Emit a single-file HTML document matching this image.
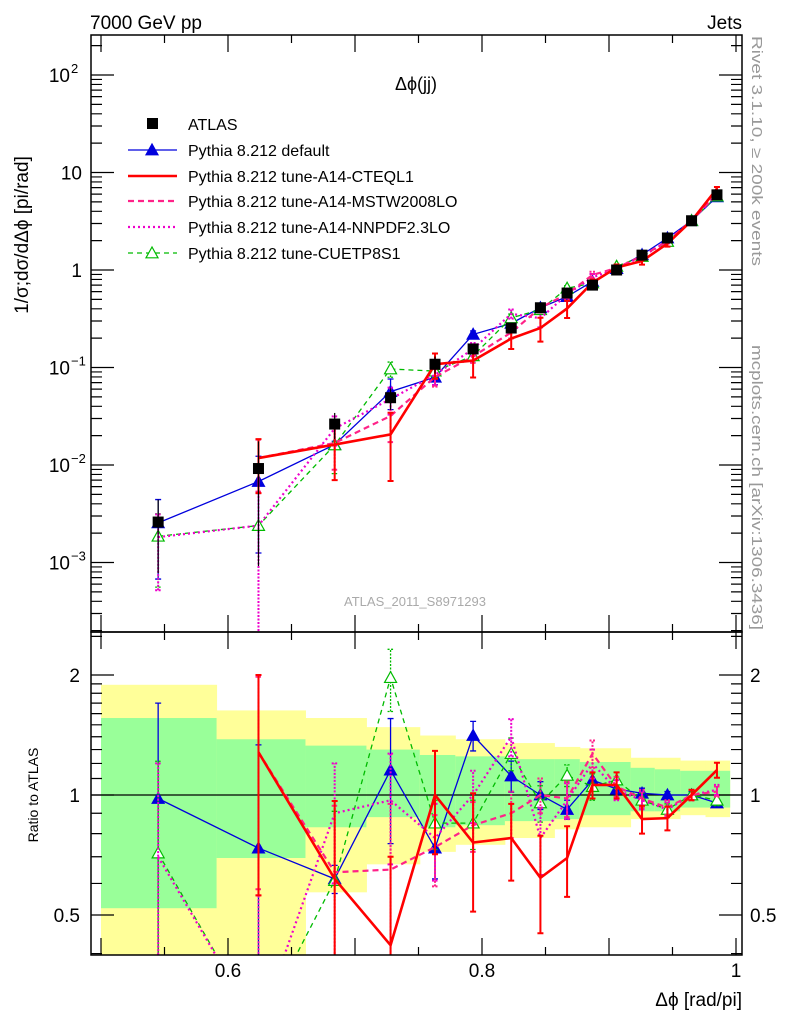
<!DOCTYPE html>
<html><head><meta charset="utf-8"><style>
html,body{margin:0;padding:0;background:#fff;overflow:hidden;width:786px;height:1024px;}
svg{display:block;font-family:"Liberation Sans",sans-serif;}
</style></head><body>
<svg id="c" width="786" height="1024" viewBox="0 0 786 1024" xmlns="http://www.w3.org/2000/svg">
<defs>
<clipPath id="cm"><rect x="91" y="35" width="651" height="597"/></clipPath>
<clipPath id="cr"><rect x="91" y="632" width="651" height="323"/></clipPath>
</defs>
<g id="bands" clip-path="url(#cr)"></g>
<g id="main" clip-path="url(#cm)"></g>
<g id="ratio" clip-path="url(#cr)"></g>
<g id="axes"></g>
<text x="90" y="29" font-size="19">7000 GeV pp</text>
<text x="742" y="29" font-size="19" text-anchor="end">Jets</text>
<text x="416" y="90" font-size="18" text-anchor="middle">Δϕ(jj)</text>
<text x="415" y="606" font-size="13" fill="#aaa" text-anchor="middle">ATLAS_2011_S8971293</text>
<text transform="translate(752,36) rotate(90)" font-size="14.5" fill="#999" textLength="230" lengthAdjust="spacingAndGlyphs">Rivet 3.1.10, ≥ 200k events</text>
<text transform="translate(752,345) rotate(90)" font-size="14.5" fill="#999" textLength="285" lengthAdjust="spacingAndGlyphs">mcplots.cern.ch [arXiv:1306.3436]</text>
<text transform="translate(28,235) rotate(-90)" font-size="19" text-anchor="middle">1/σ;dσ/dΔϕ [pi/rad]</text>
<text transform="translate(38,795) rotate(-90)" font-size="14" text-anchor="middle">Ratio to ATLAS</text>
<text x="742" y="1006" font-size="19" text-anchor="end">Δϕ [rad/pi]</text>
<g id="legend"></g>
</svg>
<script>
const xs=[0.545,0.624,0.684,0.728,0.763,0.793,0.823,0.846,0.867,0.887,0.906,0.926,0.946,0.965,0.985];
const atlas=[0.0026,0.0092,0.0263,0.049,0.108,0.155,0.254,0.41,0.58,0.70,1.0,1.42,2.13,3.2,5.9];
const atlasRelErr=[0.7,0.9,0.3,0.25,0.2,0.12,0.1,0.08,0.12,0.05,0.04,0.04,0.03,0.03,0.03];
const rDefault=[0.98,0.736,0.616,1.155,0.736,1.41,1.116,1.0,0.92,1.09,1.035,1.01,1.0,1.0,0.955];
const eDefault=[0.72,0.6,0.05,0.4,0.12,0.12,0.1,0.08,0.05,0.05,0.03,0.03,0.02,0.02,0.02];
const rCTEQ=[null,1.28,0.616,0.42,1.0,0.76,0.78,0.62,0.695,1.06,1.06,0.87,0.875,1.0,1.155];
const eCTEQ=[0,0.72,0.35,0.28,0.29,0.25,0.17,0.17,0.14,0.08,0.08,0.07,0.06,0.03,0.05];
const rMSTW=[null,1.28,0.64,0.65,0.74,0.84,0.9,1.0,0.98,1.27,1.05,0.98,0.93,1.0,1.02];
const eMSTW=[0,0.7,0.3,0.3,0.15,0.12,0.12,0.1,0.1,0.1,0.06,0.05,0.04,0.03,0.03];
const rNNPDF=[0.7,0.26,0.9,0.97,0.78,1.0,1.4,0.78,0.97,1.2,1.03,0.97,0.92,1.0,1.03];
const eNNPDF=[0.5,0.3,0.3,0.3,0.17,0.15,0.15,0.15,0.1,0.1,0.06,0.05,0.04,0.03,0.03];
const rCUETP=[0.715,0.26,0.61,1.97,0.85,0.85,1.27,0.955,1.12,1.05,1.09,0.97,0.92,1.0,0.97];
const eCUETP=[0.5,0.3,0.3,0.35,0.12,0.12,0.12,0.1,0.07,0.08,0.05,0.04,0.03,0.03,0.03];
const binEdges=[0.5,0.591,0.661,0.709,0.751,0.779,0.818,0.857,0.877,0.917,0.936,0.956,0.976,0.995];
const bandYellowHi=[1.89,1.63,1.56,1.48,1.41,1.38,1.35,1.32,1.31,1.24,1.24,1.22,1.22];
const bandGreenHi=[1.56,1.38,1.33,1.30,1.26,1.25,1.23,1.23,1.21,1.17,1.16,1.15,1.15];
const bandGreenLo=[0.52,0.695,0.83,0.88,0.83,0.84,0.86,0.87,0.89,0.91,0.91,0.93,0.93];
const bandYellowLo=[0.3,0.3,0.57,0.67,0.72,0.75,0.78,0.82,0.83,0.87,0.87,0.89,0.88];
const yTickVals=[100,10,1,0.1,0.01,0.001];
const yTickLabels=[["10","2"],["10",""],["1",""],["10","−1"],["10","−2"],["10","−3"]];
const rTickVals=[2,1,0.5];
const rTickLabels=["2","1","0.5"];
const xTickVals=[0.6,0.8,1.0];
const xTickLabels=["0.6","0.8","1"];

const NS="http://www.w3.org/2000/svg";
const X=v=>101+(v-0.5)*1270;
const YM=v=>270-97.5*Math.log10(v);
const YR=r=>795-120*Math.log2(r);
function mk(tag,attrs,parent){const e=document.createElementNS(NS,tag);for(const k in attrs)e.setAttribute(k,attrs[k]);parent.appendChild(e);return e;}
const gB=document.getElementById('bands'),gM=document.getElementById('main'),gR=document.getElementById('ratio'),gA=document.getElementById('axes'),gL=document.getElementById('legend');

for(let i=0;i<bandYellowHi.length;i++){
  const x0=X(binEdges[i]),x1=X(binEdges[i+1]);
  let r=mk('rect',{x:x0,y:YR(bandYellowHi[i]),width:x1-x0+0.5,height:YR(bandYellowLo[i])-YR(bandYellowHi[i]),fill:'#ffff99'},gB);
  
  
  r=mk('rect',{x:x0,y:YR(bandGreenHi[i]),width:x1-x0+0.5,height:YR(bandGreenLo[i])-YR(bandGreenHi[i]),fill:'#99ff99'},gB);
  
  
}
let ref=mk('line',{x1:91,x2:742,y1:YR(1),y2:YR(1),stroke:'#000','stroke-width':1.3},gB);



const series=[
 {name:'default',r:rDefault,e:eDefault,color:'#0000dd',w:1.3,dash:'',marker:'tri-fill',label:'Pythia 8.212 default'},
 {name:'cuetp8s1',r:rCUETP,e:eCUETP,color:'#00bb00',w:1.3,dash:'5,4',marker:'tri-open',label:'Pythia 8.212 tune-CUETP8S1'},
 {name:'nnpdf',r:rNNPDF,e:eNNPDF,color:'#ee00cc',w:2.2,dash:'2,3',marker:'',label:'Pythia 8.212 tune-A14-NNPDF2.3LO'},
 {name:'mstw',r:rMSTW,e:eMSTW,color:'#ff2288',w:2.2,dash:'6,4',marker:'',label:'Pythia 8.212 tune-A14-MSTW2008LO'},
 {name:'cteql1',r:rCTEQ,e:eCTEQ,color:'#ff0000',w:2.6,dash:'',marker:'',label:'Pythia 8.212 tune-A14-CTEQL1'}
];
function tri(g,x,y,c,fill,nm){const s=6;const p=mk('polygon',{points:`${x},${y-s} ${x-s},${y+s*0.8} ${x+s},${y+s*0.8}`,fill:fill?c:'#fff',stroke:c,'stroke-width':1.2},g);

}
function drawSeries(g,s,Yf,valOf,errOf,pre){
  const pts=[];
  xs.forEach((x,i)=>{const v=valOf(i);if(v==null)return;pts.push([X(x),Yf(v)]);});
  const pl=mk('polyline',{points:pts.map(p=>p.join(',')).join(' '),fill:'none',stroke:s.color,'stroke-width':s.w,'stroke-dasharray':s.dash},g);
  
  
  xs.forEach((x,i)=>{const v=valOf(i);if(v==null)return;const[lo,hi]=errOf(i);
    const cx=X(x);const yl=Yf(Math.max(lo,1e-6)),yh=Yf(hi);
    const eb=mk('path',{d:`M${cx},${yl}V${yh}M${cx-3},${yh}H${cx+3}M${cx-3},${yl}H${cx+3}`,stroke:s.color,'stroke-width':Math.min(s.w,2),'stroke-dasharray':s.dash?'2,1.5':'',fill:'none'},g);
    
    
    if(s.marker)tri(g,cx,Yf(v),s.color,s.marker==='tri-fill',pre+'-point-'+s.name);
  });
}
series.forEach(s=>{
  drawSeries(gM,s,YM,i=>s.r[i]==null?null:atlas[i]*s.r[i],i=>[atlas[i]*(s.r[i]-s.e[i]),atlas[i]*(s.r[i]+s.e[i])],'main');
  drawSeries(gR,s,YR,i=>s.r[i],i=>[s.r[i]-s.e[i],s.r[i]+s.e[i]],'ratio');
});
xs.forEach((x,i)=>{const cx=X(x),v=atlas[i];
  const lo=v*(1-atlasRelErr[i]),hi=v*(1+atlasRelErr[i]);
  const eb=mk('path',{d:`M${cx},${YM(Math.max(lo,1e-6))}V${YM(hi)}`,stroke:'#000','stroke-width':1.2},gM);
  
  
  const r=mk('rect',{x:cx-5.5,y:YM(v)-5.5,width:11,height:11,fill:'#000'},gM);
  
  
});

function frame(y0,y1,nm){const r=mk('rect',{x:91,y:y0,width:651,height:y1-y0,fill:'none',stroke:'#000','stroke-width':1.5},gA);

}
frame(35,632,'main-frame');frame(632,955,'ratio-frame');
let d='';
for(let v=0.5;v<=1.0001;v+=0.05){const x=X(v);const maj=Math.abs(v*10-Math.round(v*10))<1e-6;const L=maj?17:8;
  d+=`M${x},35v${L}M${x},632v-${L}M${x},632v${L}M${x},955v-${L}`;}
for(let e=-4;e<=2;e++){for(let m=1;m<10;m++){const v=m*Math.pow(10,e);const y=YM(v);if(y<35||y>632)continue;const L=m===1?23:11;d+=`M91,${y}h${L}M742,${y}h-${L}`;}}
[0.4,0.5,0.6,0.7,0.8,0.9,1,1.1,1.2,1.3,1.4,1.5,1.6,1.7,1.8,1.9,2,2.5].forEach(v=>{const y=YR(v);if(y<632||y>955)return;const L=(v===0.5||v===1||v===2)?23:11;d+=`M91,${y}h${L}M742,${y}h-${L}`;});
const tk=mk('path',{d:d,stroke:'#000','stroke-width':1.2,fill:'none'},gA);


yTickVals.forEach((v,i)=>{const t=mk('text',{x:yTickLabels[i][1]?70:82,y:YM(v)+7,'font-size':19,'text-anchor':'end'},gA);
  t.textContent=yTickLabels[i][0];
  
  
  if(yTickLabels[i][1]){const s=mk('text',{x:71,y:YM(v)-2,'font-size':13},gA);s.textContent=yTickLabels[i][1];
  
  }
});
rTickVals.forEach((v,i)=>{[[80,'end'],[750,'start']].forEach(([x,a])=>{const t=mk('text',{x:x,y:YR(v)+7,'font-size':19,'text-anchor':a},gA);t.textContent=rTickLabels[i];
  
  });});
xTickVals.forEach((v,i)=>{const t=mk('text',{x:X(v),y:977,'font-size':19,'text-anchor':'middle'},gA);t.textContent=xTickLabels[i];
  
  });

const ly=[124,150,176,201,227,253];
let lt=mk('rect',{x:147,y:ly[0]-6,width:11,height:11,fill:'#000'},gL);


lt=mk('text',{x:188,y:ly[0]+6,'font-size':16},gL);lt.textContent='ATLAS';


const order=['default','cteql1','mstw','nnpdf','cuetp8s1'];
order.forEach((n,k)=>{const s=series.find(q=>q.name===n);const y=ly[k+1];
  const l=mk('line',{x1:128,x2:177,y1:y,y2:y,stroke:s.color,'stroke-width':s.w,'stroke-dasharray':s.dash},gL);
  
  
  if(s.marker)tri(gL,152,y,s.color,s.marker==='tri-fill','legend-marker-'+n);
  const t=mk('text',{x:188,y:y+6,'font-size':16},gL);t.textContent=s.label;
  
  
});
</script>
</body></html>
